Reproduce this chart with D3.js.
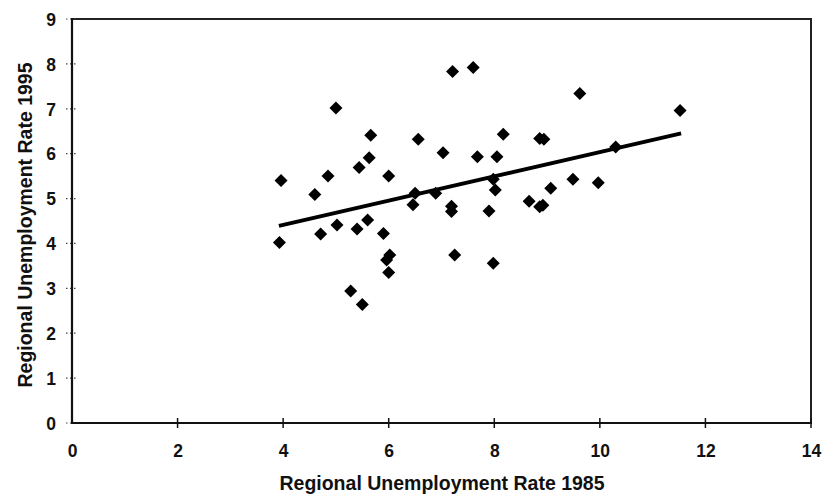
<!DOCTYPE html>
<html>
<head>
<meta charset="utf-8">
<script src="https://cdn.jsdelivr.net/npm/d3@7"></script>
<style>
  html, body { margin: 0; padding: 0; background: #fff; }
  svg { display: block; }
  text { font-family: "Liberation Sans", Arial, sans-serif; font-weight: bold; fill: #111; }
</style>
</head>
<body>
<svg id="chart" width="825" height="499"></svg>
<script>
// Data
const rate1985 = [3.96, 3.93, 4.60, 4.71, 4.85, 5.00, 5.02, 5.28, 5.40, 5.44,
                  5.50, 5.60, 5.63, 5.66, 5.90, 5.96, 6.02, 6.00, 6.00, 6.46,
                  6.50, 6.56, 6.89, 7.03, 7.19, 7.19, 7.21, 7.25, 7.60, 7.68,
                  7.90, 7.98, 7.98, 8.02, 8.05, 8.17, 8.66, 8.86, 8.92, 8.86,
                  8.94, 9.07, 9.49, 9.62, 9.97, 10.30, 11.52];
const rate1995 = [5.40, 4.02, 5.09, 4.21, 5.50, 7.02, 4.41, 2.94, 4.32, 5.69,
                  2.64, 4.52, 5.91, 6.41, 4.22, 3.63, 3.74, 3.35, 5.50, 4.86,
                  5.12, 6.32, 5.12, 6.02, 4.83, 4.71, 7.83, 3.74, 7.92, 5.93,
                  4.72, 5.43, 3.56, 5.19, 5.93, 6.43, 4.94, 4.82, 4.85, 6.34,
                  6.32, 5.23, 5.43, 7.34, 5.35, 6.15, 6.96];
const trendX = [3.92, 11.54];
const trendY = [4.39, 6.45];
const xTicks = [0, 2, 4, 6, 8, 10, 12, 14];
const yTicks = [0, 1, 2, 3, 4, 5, 6, 7, 8, 9];
const xTitle = "Regional Unemployment Rate 1985";
const yTitle = "Regional Unemployment Rate 1995";

const svg = d3.select("#chart");
const x = d3.scaleLinear().domain([0, 14]).range([72, 811]);
const y = d3.scaleLinear().domain([0, 9]).range([423, 19]);

// frame (top and right)
svg.append("path")
  .attr("d", `M${x(0)},${y(9)}H${x(14)}V${y(0)}`)
  .attr("fill", "none").attr("stroke", "#222").attr("stroke-width", 2);

// y axis
const yAxis = svg.append("g").attr("transform", `translate(${x(0)},0)`)
  .call(d3.axisLeft(y).tickValues(yTicks).tickSize(0).tickPadding(16).tickFormat(d3.format("d")));
yAxis.select(".domain").remove();
yAxis.selectAll("text").attr("font-size", 17.5).attr("font-family", null).attr("fill", "#111").attr("dy", "0.36em");
svg.append("g").selectAll("line").data(yTicks).join("line")
  .attr("x1", x(0) - 6).attr("x2", x(0) + 6)
  .attr("y1", d => y(d)).attr("y2", d => y(d))
  .attr("stroke", "#444").attr("stroke-width", 1.2).attr("stroke-dasharray", "1.5,2.5");
svg.append("line").attr("x1", x(0)).attr("x2", x(0)).attr("y1", y(9) - 1).attr("y2", y(0) + 1)
  .attr("stroke", "#111").attr("stroke-width", 2.2);

// x axis
const xAxis = svg.append("g").attr("transform", `translate(0,${y(0)})`)
  .call(d3.axisBottom(x).tickValues(xTicks).tickSize(0).tickPadding(22).tickFormat(d3.format("d")));
xAxis.select(".domain").remove();
xAxis.selectAll("text").attr("font-size", 17.5).attr("font-family", null).attr("fill", "#111");
svg.append("g").selectAll("line").data(xTicks.filter(d => d > 0)).join("line")
  .attr("x1", d => x(d)).attr("x2", d => x(d))
  .attr("y1", y(0) - 5).attr("y2", y(0) + 5)
  .attr("stroke", "#111").attr("stroke-width", 1.5);
svg.append("line").attr("x1", x(0) - 1).attr("x2", x(14) + 1).attr("y1", y(0)).attr("y2", y(0))
  .attr("stroke", "#111").attr("stroke-width", 2.2);

// points
const pts = rate1985.map((v, i) => ({ x: v, y: rate1995[i] }));
svg.append("g").selectAll("path").data(pts).join("path")
  .attr("transform", d => `translate(${x(d.x)},${y(d.y)})`)
  .attr("d", "M0,-6.5L6.5,0L0,6.5L-6.5,0Z")
  .attr("fill", "#000");

// trend line
svg.append("path")
  .datum(trendX.map((v, i) => [v, trendY[i]]))
  .attr("d", d3.line().x(d => x(d[0])).y(d => y(d[1])))
  .attr("fill", "none").attr("stroke", "#000").attr("stroke-width", 3.8);

// titles
svg.append("text").attr("x", 442).attr("y", 490).attr("text-anchor", "middle")
  .attr("font-size", 19.5).text(xTitle);
svg.append("text").attr("transform", "translate(32,225) rotate(-90)").attr("text-anchor", "middle")
  .attr("font-size", 19.5).text(yTitle);
</script>
</body>
</html>
